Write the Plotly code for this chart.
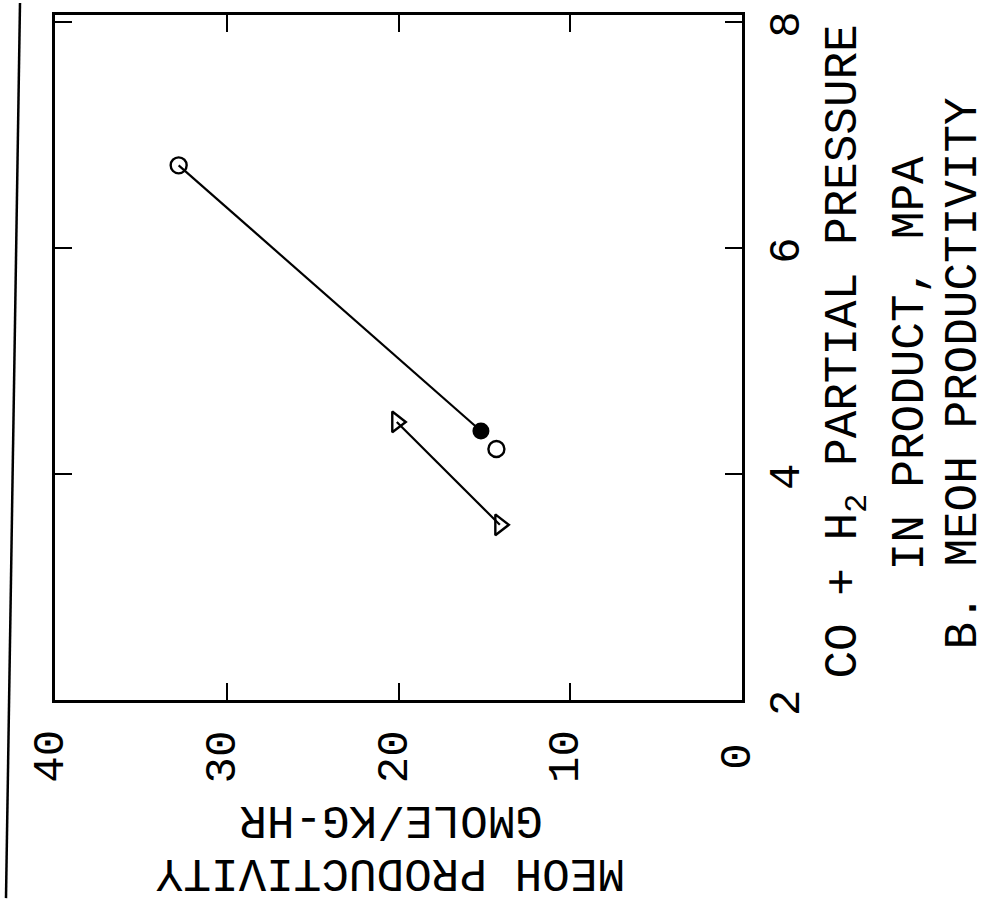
import plotly.graph_objects as go

# MeOH productivity vs. CO + H2 partial pressure in product
open_prod = [32.8, 14.3]        # gmole/kg-hr
open_press = [6.73, 4.22]       # MPa
filled_prod = [15.2]
filled_press = [4.38]
tri_prod = [20.1, 14.1]
tri_press = [4.46, 3.55]

prod_ticks = [0, 10, 20, 30, 40]
press_ticks = [2, 4, 6, 8]

FONT = "Liberation Mono, Courier New, monospace"
INK = "black"

fig = go.Figure()

# trend line from the high-pressure open point to the filled point
fig.add_trace(go.Scatter(
    x=[open_prod[0], filled_prod[0]], y=[open_press[0], filled_press[0]],
    mode="lines", line=dict(color=INK, width=2.2), hoverinfo="skip"))
# line through the triangles
fig.add_trace(go.Scatter(
    x=tri_prod, y=tri_press, mode="lines",
    line=dict(color=INK, width=2.2), hoverinfo="skip"))

fig.add_trace(go.Scatter(
    x=open_prod, y=open_press, mode="markers",
    marker=dict(symbol="circle-open", size=16, color=INK, line=dict(width=2.4))))
fig.add_trace(go.Scatter(
    x=filled_prod, y=filled_press, mode="markers",
    marker=dict(symbol="circle", size=17, color=INK)))
fig.add_trace(go.Scatter(
    x=tri_prod, y=tri_press, mode="markers",
    marker=dict(symbol="triangle-right-open", size=18, color=INK, line=dict(width=2.4))))

L, R, T, B = 55, 255, 12, 199
W, H = 997, 899
pw, ph = W - L - R, H - T - B

def px_x(px):
    return (px - L) / pw

def px_y(py):
    return (H - B - py) / ph

axis_common = dict(
    showline=True, linecolor=INK, linewidth=2.5, mirror="allticks",
    ticks="inside", ticklen=17, tickwidth=2, tickcolor=INK,
    showgrid=False, zeroline=False, showticklabels=False,
)

fig.update_layout(
    width=W, height=H,
    margin=dict(l=L, r=R, t=T, b=B),
    paper_bgcolor="white", plot_bgcolor="white",
    showlegend=False,
    xaxis=dict(range=[40, 0], tickvals=prod_ticks, **axis_common),
    yaxis=dict(range=[2, 8.06], tickvals=press_ticks, side="right", **axis_common),
)

tick_font = dict(family=FONT, size=44, color=INK)
title_font = dict(family=FONT, size=46, color=INK)

# rotated tick labels, placed on the axes' own scales
for v in prod_ticks:
    fig.add_annotation(text=str(v), xref="x", yref="paper", x=v, y=px_y(757),
                       xanchor="center", yanchor="middle", xshift=-4,
                       textangle=-90, showarrow=False, font=tick_font)
for v in press_ticks:
    fig.add_annotation(text=str(v), xref="paper", yref="y", x=px_x(787), y=v,
                       xanchor="center", yanchor="middle", yshift=-3,
                       textangle=-90, showarrow=False, font=tick_font)

# pressure axis title (reads bottom to top on the right)
right_lines = [
    ("CO + H<sub>2</sub> PARTIAL PRESSURE", 847, 350),
    ("IN PRODUCT, MPA", 911, 362),
    ("B. MEOH PRODUCTIVITY", 964, 372),
]
for text, cx, cy in right_lines:
    fig.add_annotation(text=text, xref="paper", yref="paper",
                       x=px_x(cx), y=px_y(cy), xanchor="center", yanchor="middle",
                       textangle=-90, showarrow=False, font=title_font)

# productivity axis title (upside down below the plot)
bottom_lines = [
    ("MEOH PRODUCTIVITY", 391, 872),
    ("GMOLE/KG-HR", 391, 819),
]
for text, cx, cy in bottom_lines:
    fig.add_annotation(text=text, xref="paper", yref="paper",
                       x=px_x(cx), y=px_y(cy), xanchor="center", yanchor="middle",
                       textangle=180, showarrow=False, font=title_font)

# page border at the left
fig.add_shape(type="line", xref="paper", yref="paper",
              x0=px_x(20), y0=px_y(0), x1=px_x(6), y1=px_y(899),
              line=dict(color=INK, width=2.5))

fig.write_html("out.html")
